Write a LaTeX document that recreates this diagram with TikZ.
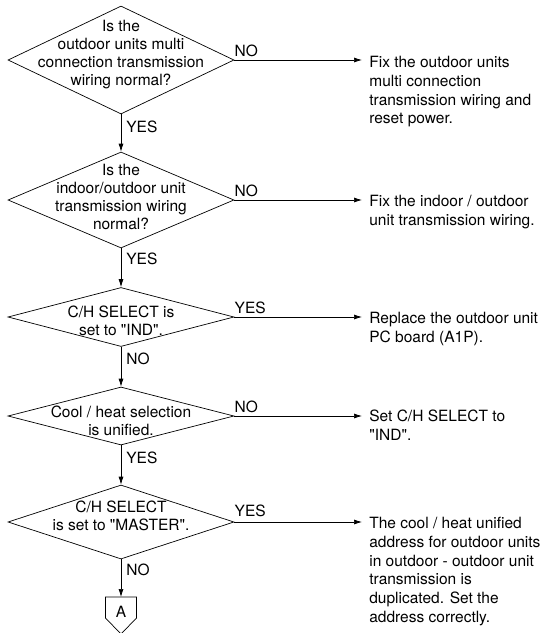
\documentclass[tikz,border=0pt]{standalone}
\usepackage{fontspec}
\setmainfont{TeX Gyre Heros}[Ligatures=TeXOff]
\usetikzlibrary{shapes.geometric,arrows.meta}

\begin{document}
\begin{tikzpicture}[
    x=1pt, y=-1pt, line width=0.7pt,
    every node/.style={font=\fontsize{15.5}{18}\selectfont},
    decision/.style={diamond, draw, minimum width=226pt, inner sep=0pt},
    question/.style={align=center, inner sep=0pt},
    action/.style={align=left, anchor=north west, inner xsep=7pt, inner ysep=0pt,
        font=\fontsize{15.5}{18.7}\selectfont},
    answer/.style={inner sep=0pt},
    offpage/.style={minimum width=31pt, minimum height=37pt, inner sep=0pt, outer sep=0pt},
    arrow/.style={-{Latex[length=8pt,width=5pt]}}
]
\useasboundingbox (0,0) rectangle (548,633);

% Decisions
\node[decision, minimum height=108pt] (q1) at (121,60)  {};
\node[decision, minimum height=96pt]  (q2) at (121,200) {};
\node[decision, minimum height=59pt]  (q3) at (121,317) {};
\node[decision, minimum height=58pt]  (q4) at (121,416) {};
\node[decision, minimum height=74pt]  (q5) at (121,522) {};

% Decision texts
\node[question] (q1t) at (121,55)  {Is the\\outdoor units multi\\connection transmission\\wiring normal?};
\node[question] (q2t) at (121,197) {Is the\\indoor/outdoor unit\\transmission wiring\\normal?};
\node[question] (q3t) at (121,321) {C/H SELECT is\\set to "IND".};
\node[question] (q4t) at (121,421) {Cool / heat selection\\is unified.};
\node[question] (q5t) at (121,516) {C/H SELECT\\is set to "MASTER".};

% Connector
\node[offpage] (A) at (121,615.5) {};
\node (Atext) at (121,612) {A};
\draw (A.north west) -- (A.north east) -- ([yshift=16pt]A.south east)
    -- (A.south) -- ([yshift=16pt]A.south west) -- cycle;

% Actions
\node[action] (fix1) at (362,56)  {Fix the outdoor units\\multi connection\\transmission wiring and\\reset power.};
\node[action] (fix2) at (362,195) {Fix the indoor / outdoor\\unit transmission wiring.};
\node[action] (fix3) at (362,312) {Replace the outdoor unit\\PC board (A1P).};
\node[action] (fix4) at (362,410) {Set C/H SELECT to\\"IND".};
\node[action] (fix5) at (362,517) {The cool / heat unified\\address for outdoor units\\in outdoor - outdoor unit\\transmission is\\duplicated. Set the\\address correctly.};

% Main flow
\draw[arrow] (q1.south) -- (q2.north);
\draw[arrow] (q2.south) -- (q3.north);
\draw[arrow] (q3.south) -- (q4.north);
\draw[arrow] (q4.south) -- (q5.north);
\draw[arrow] (q5.south) -- (A.north);

% Side branches
\foreach \i in {1,...,5}{
    \draw[arrow] (q\i.east) -- (q\i.east -| fix\i.west);
}

% Answers
\node[answer, anchor=base west] (s1) at ([yshift=4pt]q1.east) {NO};
\node[answer, anchor=base west] (s2) at ([yshift=4pt]q2.east) {NO};
\node[answer, anchor=base west] (s3) at ([yshift=4pt]q3.east) {YES};
\node[answer, anchor=base west] (s4) at ([yshift=4pt]q4.east) {NO};
\node[answer, anchor=base west] (s5) at ([yshift=6pt]q5.east) {YES};
\node[answer, anchor=west] (d1) at ([xshift=5pt,yshift=-12pt]q1.south) {YES};
\node[answer, anchor=west] (d2) at ([xshift=5pt,yshift=-10pt]q2.south) {YES};
\node[answer, anchor=west] (d3) at ([xshift=5pt,yshift=-12pt]q3.south) {NO};
\node[answer, anchor=west] (d4) at ([xshift=5pt,yshift=-12pt]q4.south) {YES};
\node[answer, anchor=west] (d5) at ([xshift=5pt,yshift=-10pt]q5.south) {NO};

\end{tikzpicture}
\end{document}
